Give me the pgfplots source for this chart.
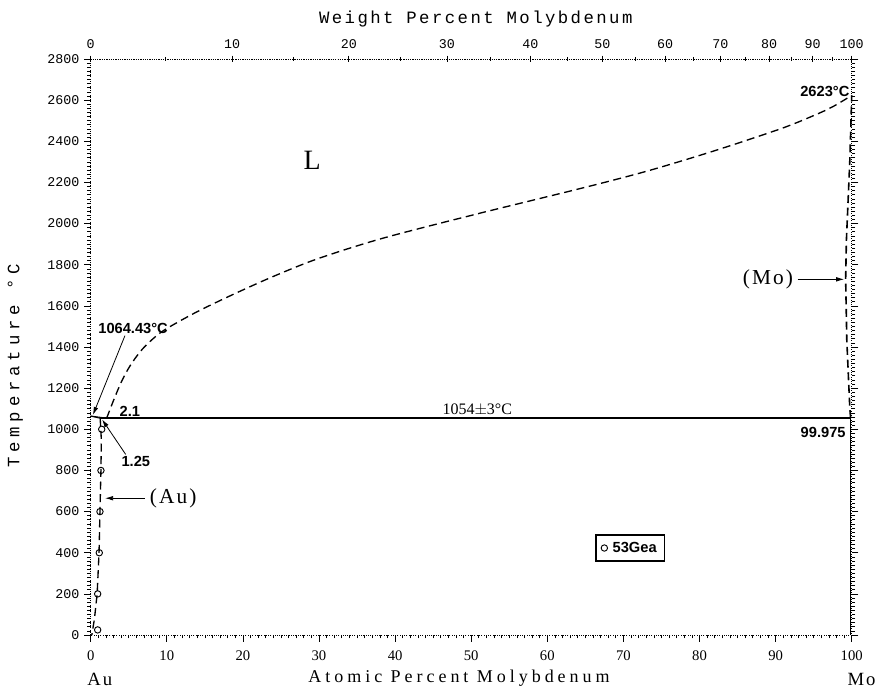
\documentclass[border=0pt]{standalone}
\usepackage{fontspec}
\setmainfont{Liberation Serif}
\newfontfamily\plotfont{Liberation Mono}
\newfontfamily\plotfontsp[LetterSpace=14]{Liberation Mono}
\newfontfamily\plotfontwide[LetterSpace=28]{Liberation Mono}
\newfontfamily\serifsp[LetterSpace=22]{Liberation Serif}
\newfontfamily\serifsm[LetterSpace=10]{Liberation Serif}
\newfontfamily\labfont{Liberation Sans}
\usepackage{pgfplots}
\pgfplotsset{compat=1.18}
\usetikzlibrary{arrows.meta}
\begin{document}
\begin{tikzpicture}
\begin{axis}[
  width=570.75pt, height=432pt, scale only axis,
  xmin=0, xmax=100, ymin=0, ymax=2800,
  xtick={0,10,...,100}, ytick={0,200,...,2800},
  minor x tick num=9, minor y tick num=9,
  xtick pos=bottom, ytick pos=both, yticklabel pos=left,
  tick align=outside,
  major tick length=5pt, minor tick length=2.5pt,
  axis line style={densely dotted, line width=0.7pt},
  tick style={solid, black, line width=0.5pt},
  clip=false,
  /pgf/number format/assume math mode=true,
  /pgf/number format/1000 sep={},
  yticklabel style={font=\plotfont\fontsize{10}{12}\selectfont},
  xticklabel style={font=\fontsize{11}{13}\selectfont, yshift=-3pt},
  legend style={at={(axis cs:70.9,423)}, anchor=center, draw=black, line width=1.1pt,
    font=\labfont\bfseries\fontsize{11}{13}\selectfont, inner xsep=4pt, inner ysep=3pt},
  legend cell align=left,
]
\coordinate (SW) at (rel axis cs:0,0);
\coordinate (NE) at (rel axis cs:1,1);
% experimental points
\addplot[only marks, mark=o, mark size=2.4pt, black, mark options={line width=0.7pt}]
  coordinates {(1.45,1000) (1.35,800) (1.22,600) (1.13,400) (0.92,200) (0.92,25)};
\addlegendentry{\,53Gea}
% liquidus (Mo side)
\addplot[black, line width=1pt, dash pattern=on 6pt off 3.5pt, smooth, tension=0.5, forget plot]
  coordinates {(2.1,1054) (3.0,1140) (4.0,1228) (5.0,1298) (6.0,1353) (7.0,1398)
   (8.5,1450) (10,1490) (13.7,1566) (18.1,1645) (23.8,1740) (29.9,1830)
   (38.5,1930) (51.1,2050) (64.3,2170) (73.1,2255) (81.8,2352) (90.6,2460)
   (95.0,2525) (97.5,2568) (100,2623)};
% (Mo) solidus
\addplot[black, line width=1.2pt, dash pattern=on 6pt off 3.5pt, forget plot]
  coordinates {(99.85,1054) (99.75,1100) (99.35,1434) (99.2,1730) (99.3,1920) (99.75,2309) (100,2623)};
% (Au) solvus
\addplot[black, line width=1pt, dash pattern=on 6pt off 3.5pt, forget plot]
  coordinates {(1.25,1054) (1.4,950) (1.35,800) (1.22,600) (1.1,400) (0.85,200) (0.5,80) (0.15,0)};
% Au-side liquidus and solidus
\addplot[black, line width=0.8pt, forget plot] coordinates {(0,1064.43) (2.1,1054)};
\addplot[black, line width=0.8pt, forget plot] coordinates {(0,1064.43) (1.25,1054)};
% eutectic line
\addplot[black, line width=1.3pt, forget plot] coordinates {(1.25,1054) (99.85,1054)};
% (Mo) solvus vertical
\addplot[black, line width=1.3pt, forget plot] coordinates {(99.85,1054) (99.85,0)};

% annotations
\node[font=\fontsize{21}{24}\selectfont] at (axis cs:29.1,2309) {L};
\node[anchor=west, font=\labfont\bfseries\fontsize{11}{13}\selectfont, inner sep=1pt] at (axis cs:0.8,1491) {1064.43\textdegree C};
\draw[line width=0.6pt, -{Latex[length=6pt,width=3.5pt]}] (axis cs:4.5,1455) -- (axis cs:0.3,1070);
\node[anchor=west, font=\labfont\bfseries\fontsize{11}{13}\selectfont, inner sep=1pt] at (axis cs:3.6,1088) {2.1};
\node[anchor=west, font=\labfont\bfseries\fontsize{11}{13}\selectfont, inner sep=1pt] at (axis cs:3.85,842) {1.25};
\draw[line width=0.6pt, -{Latex[length=6pt,width=3.5pt]}] (axis cs:4.6,878) -- (axis cs:1.5,1048);
\node[anchor=west, font=\serifsm\fontsize{16}{18}\selectfont, inner sep=1pt] at (axis cs:7.57,665) {(Au)};
\draw[line width=0.6pt, -{Latex[length=6pt,width=3.5pt]}] (axis cs:7.1,665) -- (axis cs:1.9,665);
\node[anchor=south, font=\fontsize{12}{14}\selectfont, inner sep=1pt] at (axis cs:50.8,1060) {1054$\pm$3\textdegree C};
\node[anchor=east, font=\labfont\bfseries\fontsize{11}{13}\selectfont, inner sep=1pt] at (axis cs:99.9,2641) {2623\textdegree C};
\node[anchor=east, font=\labfont\bfseries\fontsize{11}{13}\selectfont, inner sep=1pt] at (axis cs:99.4,983) {99.975};
\node[anchor=east, font=\serifsm\fontsize{16}{18}\selectfont, inner sep=1pt] at (axis cs:92.5,1729) {(Mo)};
\draw[line width=0.6pt, -{Latex[length=6pt,width=3.5pt]}] (axis cs:92.9,1729) -- (axis cs:99.0,1729);

% axis titles
\node[font=\plotfontsp\fontsize{13}{15}\selectfont] at (axis cs:50.6,2995) {Weight Percent Molybdenum};
\node[rotate=90, font=\plotfontwide\fontsize{13}{15}\selectfont] at (axis cs:-9.9,1308) {Temperature \textdegree C};
\node[font=\serifsp\fontsize{13.5}{16}\selectfont] at (axis cs:48.4,-209) {Atomic Percent Molybdenum};
\node[font=\serifsm\fontsize{14}{16}\selectfont] at (axis cs:1.2,-215) {Au};
\node[font=\serifsm\fontsize{14}{16}\selectfont, inner sep=0pt] at (axis cs:101.3,-215) {Mo};
\end{axis}
\begin{axis}[
  width=570.75pt, height=432pt, scale only axis,
  xmin=0, xmax=100, ymin=0, ymax=2800,
  axis x line*=top, axis y line=none,
  xtick={0,18.574,33.917,46.805,57.783,67.246,75.488,82.730,89.145,94.866,100},
  xticklabels={0,10,20,30,40,50,60,70,80,90,100},
  minor xtick={9.752,26.595,40.630,52.505,62.683,71.504,79.222,86.032,92.085,97.500},
  tick align=center, major tick length=5pt, minor tick length=3pt,
  axis line style={densely dotted, line width=0.7pt},
  tick style={solid, black, line width=0.5pt},
  /pgf/number format/assume math mode=true,
  xticklabel style={font=\plotfont\fontsize{10}{12}\selectfont, yshift=1.5pt},
]
\end{axis}
\pgfresetboundingbox
\path[use as bounding box] ([shift={(-68pt,-41.25pt)}]SW) rectangle ([shift={(21.2pt,44.25pt)}]NE);
\end{tikzpicture}
\end{document}
